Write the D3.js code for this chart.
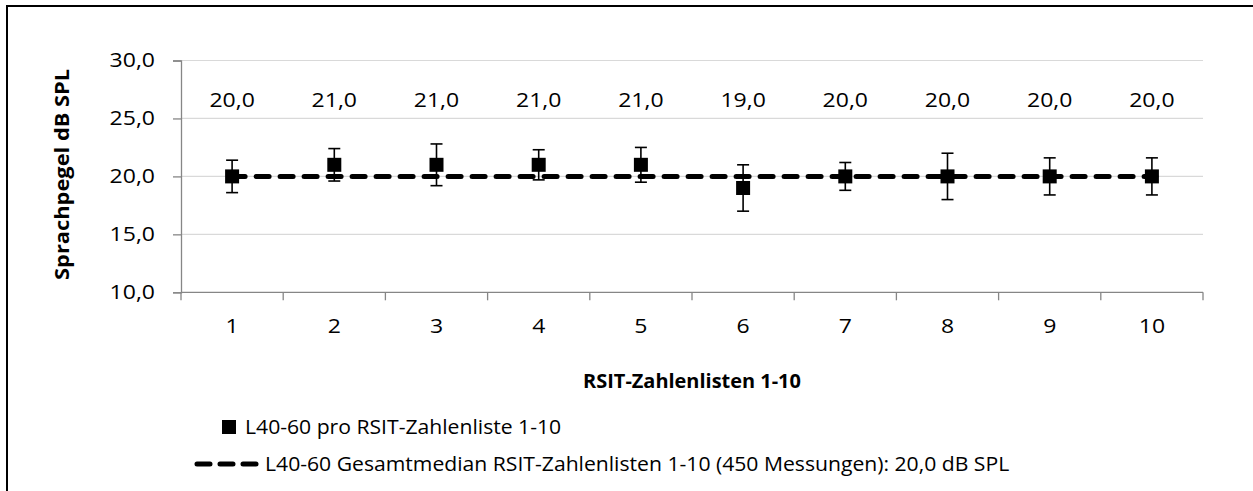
<!DOCTYPE html>
<html>
<head>
<meta charset="utf-8">
<script src="https://cdn.jsdelivr.net/npm/d3@7"></script>
<style>
  html, body { margin: 0; padding: 0; background: #fff; }
  svg { display: block; }
  text { font-family: "Open Sans", "Noto Sans", sans-serif; fill: #000; }
</style>
</head>
<body>
<script>
// RSIT number lists 1-10: L40-60 per list with spread, plus overall median
const lists = ["1", "2", "3", "4", "5", "6", "7", "8", "9", "10"];
const levels = [20, 21, 21, 21, 21, 19, 20, 20, 20, 20];
const lowerBounds = [18.6, 19.6, 19.2, 19.7, 19.5, 17.0, 18.8, 18.0, 18.4, 18.4];
const upperBounds = [21.4, 22.4, 22.8, 22.3, 22.5, 21.0, 21.2, 22.0, 21.6, 21.6];
const overallMedian = 20.0;
const yTicks = [10, 15, 20, 25, 30];
const yTitle = "Sprachpegel dB SPL";
const xTitle = "RSIT-Zahlenlisten 1-10";
const legendLabels = [
  "L40-60 pro RSIT-Zahlenliste 1-10",
  "L40-60 Gesamtmedian RSIT-Zahlenlisten 1-10 (450 Messungen): 20,0 dB SPL"
];

const W = 1253, H = 491;
const plot = { left: 181, right: 1203, top: 60.5, bottom: 292.3 };
const SX = 1.15;           // wide type, stretched horizontally
const fmt = v => d3.format(".1f")(v).replace(".", ",");

const svg = d3.select("body").append("svg").attr("width", W).attr("height", H);

// text helper: places a horizontally widened label at (x, y)
function label(parent, x, y, str, size, anchor = "middle", weight = "normal", rotate = 0, sx = SX) {
  return parent.append("text")
    .attr("transform", `translate(${x},${y}) rotate(${rotate}) scale(${sx},1)`)
    .attr("text-anchor", anchor).attr("font-size", size).attr("font-weight", weight)
    .text(str);
}

// outer chart frame
svg.append("rect")
  .attr("x", 7).attr("y", 6).attr("width", W + 10).attr("height", H + 10)
  .attr("fill", "none").attr("stroke", "#000").attr("stroke-width", 2);

const x = d3.scaleBand().domain(lists).range([plot.left, plot.right]);
const y = d3.scaleLinear().domain([10, 30]).range([plot.bottom, plot.top]);
const cx = d => x(d) + x.bandwidth() / 2;

// horizontal gridlines
svg.append("g").selectAll("line").data(yTicks.filter(t => t > 10)).join("line")
  .attr("x1", plot.left).attr("x2", plot.right)
  .attr("y1", d => y(d)).attr("y2", d => y(d))
  .attr("stroke", "#d9d9d9").attr("stroke-width", 1.2);

// y axis
const yAxis = svg.append("g").attr("transform", `translate(${plot.left},0)`)
  .call(d3.axisLeft(y).tickValues(yTicks).tickFormat(fmt).tickSize(8).tickPadding(26));
yAxis.select(".domain").attr("stroke", "#868686").attr("stroke-width", 1.3);
yAxis.selectAll(".tick line").attr("stroke", "#868686").attr("stroke-width", 1.3);
yAxis.selectAll(".tick text")
  .attr("font-size", 20).attr("font-family", null).attr("fill", "#000")
  .attr("transform", `scale(${SX},1)`)
  .attr("x", -26 / SX);

// x axis: ticks at category boundaries
const xAxisG = svg.append("g").attr("transform", `translate(0,${plot.bottom})`);
xAxisG.append("line").attr("x1", plot.left).attr("x2", plot.right)
  .attr("stroke", "#868686").attr("stroke-width", 1.3);
const bounds = lists.map(d => x(d)).concat([plot.right]);
xAxisG.selectAll("line.tk").data(bounds).join("line").attr("class", "tk")
  .attr("x1", d => d).attr("x2", d => d).attr("y1", 0).attr("y2", 8)
  .attr("stroke", "#868686").attr("stroke-width", 1.3);
lists.forEach(d => label(xAxisG, cx(d), 41, d, 20));

// axis titles
label(svg, 69, (plot.top + plot.bottom) / 2 - 2, yTitle, 19, "middle", "bold", -90);
label(svg, 692, 388, xTitle, 19, "middle", "bold", 0, 1.05);

// overall median dashed line
svg.append("line")
  .attr("x1", cx(lists[0])).attr("x2", cx(lists[lists.length - 1]) + 4)
  .attr("y1", y(overallMedian)).attr("y2", y(overallMedian))
  .attr("stroke", "#000").attr("stroke-width", 5)
  .attr("stroke-dasharray", "13 11").attr("stroke-linecap", "round");

// error bars
const eb = svg.append("g").attr("stroke", "#000").attr("stroke-width", 1.6);
lists.forEach((d, i) => {
  const px = cx(d);
  eb.append("line").attr("x1", px).attr("x2", px).attr("y1", y(upperBounds[i])).attr("y2", y(lowerBounds[i]));
  [upperBounds[i], lowerBounds[i]].forEach(v => {
    eb.append("line").attr("x1", px - 6).attr("x2", px + 6).attr("y1", y(v)).attr("y2", y(v));
  });
});

// markers
const m = 14;
svg.append("g").selectAll("rect").data(lists).join("rect")
  .attr("x", d => cx(d) - m / 2).attr("y", (d, i) => y(levels[i]) - m / 2)
  .attr("width", m).attr("height", m).attr("fill", "#000");

// value labels above
const vl = svg.append("g");
lists.forEach((d, i) => label(vl, cx(d), 107, fmt(levels[i]), 20));

// legend: both entries share one horizontal stretch, set by the long entry
const lg = svg.append("g");
const LEG_SIZE = 19.5;
const second = label(lg, 265, 471, legendLabels[1], LEG_SIZE, "start", "normal", 0, 1);
const legSX = (1010 - 265) / second.node().getComputedTextLength();
second.attr("transform", `translate(265,471) scale(${legSX},1)`);
lg.append("rect").attr("x", 222).attr("y", 420).attr("width", 14).attr("height", 14).attr("fill", "#000");
label(lg, 245, 434, legendLabels[0], LEG_SIZE, "start", "normal", 0, legSX);
lg.append("line").attr("x1", 197).attr("x2", 256).attr("y1", 464).attr("y2", 464)
  .attr("stroke", "#000").attr("stroke-width", 5)
  .attr("stroke-dasharray", "13 10").attr("stroke-linecap", "round");
</script>
</body>
</html>
